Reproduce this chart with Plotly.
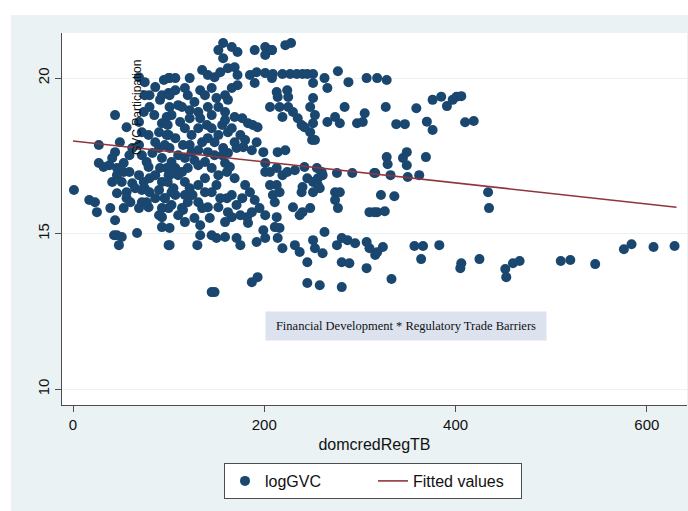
import plotly.graph_objects as go

# ---- data ----
dom_x = [
    # left cluster
    69, 86, 95, 100, 44, 56, 74, 80, 85, 93, 98, 101, 27, 44, 49, 59, 41, 38, 27, 32, 46, 53, 62, 69, 72, 77, 83, 90, 96, 79, 91, 93,
    46, 41, 53, 59, 69, 74, 80, 86, 93, 100, 90, 96, 103, 1, 17, 23, 25, 39, 46, 56, 62, 72, 75, 44, 56, 60, 69, 79, 77, 93, 93, 100,
    93, 67, 46, 43, 51, 48, 100,
    75, 80, 91, 72, 79, 90, 100, 86, 69, 93, 100, 75,
    51, 65, 80, 86, 72, 53, 90,
    # middle cluster
    157, 166, 152, 157, 172, 190, 201, 201, 208,
    101, 107, 122, 135, 141, 148, 154, 162, 169, 172, 185, 192, 201, 208, 190, 172, 166,
    110, 114, 120, 127, 122, 131, 141, 150, 152, 159, 169, 177, 183, 188, 193, 166, 103, 99, 112, 117, 124, 131, 140, 145, 152, 135,
    141, 148, 157, 115, 107, 98,
    156, 162, 171, 178, 187, 192, 199, 159, 164, 161, 169, 201, 201, 110, 117, 124, 127, 131, 103, 98, 107, 114, 120,
    99, 105, 110, 117, 122, 125, 120, 114, 103, 96, 131, 135, 141, 145, 150, 154, 161, 166, 177, 171, 162, 152, 166, 182, 187, 195,
    201, 183, 127, 101, 115,
    133, 130, 145, 150, 159, 171, 175, 192, 199, 201, 101, 193, 187, 145, 148,
    101, 107, 117, 133, 138, 145, 159, 162, 156, 162, 175, 180, 169, 133, 122, 145, 159, 101, 122, 131, 141, 148, 138, 145, 152, 138,
    131, 138, 107, 117, 101, 180, 185, 190, 175, 159, 143, 133, 117, 110,
    # right-middle cluster
    222, 228, 208, 209, 219, 227, 234, 240, 245, 251, 263, 277, 288, 307, 318, 251, 266, 213, 224, 225, 214, 251, 248,
    206, 216, 225, 230, 219, 235, 239, 242, 248, 251, 253, 250, 253, 266, 274, 279, 284, 297, 305, 303,
    214, 222, 206, 213, 219, 224, 232, 242, 245, 251, 256, 261, 258, 251, 240, 239, 276, 292, 316,
    206, 213, 216, 209, 211, 274, 279, 274, 277, 230, 240, 248, 237, 310, 318, 213,
    211, 216, 214, 219, 232, 237, 245, 251, 253, 263, 261, 276, 281, 287, 295, 307, 310, 316, 281, 289, 307, 245, 258, 281,
    255, 260, 256,
    # right tail
    328, 327, 359, 376, 385, 391, 397, 401, 406, 338, 347, 370, 376, 410, 419, 328, 329, 315, 332, 345, 349, 349, 350, 362, 369,
    434, 435, 322, 336, 326, 315,
    318, 324, 333, 357, 366, 364, 383, 406, 405, 425, 452, 453, 460, 467, 510, 520, 546, 576, 584, 607, 629,
]
log_gvc = [
    20.03, 19.71, 19.94, 20.00, 18.81, 18.42, 18.91, 19.07, 18.81, 18.55, 18.75, 19.07, 17.85, 17.62, 17.94, 17.52, 17.43, 17.20, 17.27, 17.14, 17.11, 17.27, 17.75, 17.85, 17.52, 17.30, 17.59, 17.75, 17.85, 17.14, 17.11, 17.43,
    16.88, 16.66, 16.98, 16.98, 16.88, 16.66, 16.78, 16.88, 16.66, 16.88, 16.40, 16.14, 16.33, 16.40, 16.08, 16.01, 15.69, 15.82, 16.30, 16.33, 16.62, 16.40, 16.46, 15.43, 16.14, 16.01, 15.82, 15.85, 16.01, 15.82, 15.53, 15.82,
    15.21, 15.02, 14.95, 14.95, 14.89, 14.63, 14.63,
    19.87, 19.45, 19.30, 18.26, 18.17, 18.26, 18.17, 17.94, 18.59, 19.45, 19.52, 19.45,
    16.66, 16.46, 16.33, 16.14, 16.01, 15.82, 15.59,
    21.13, 21.00, 20.90, 20.64, 20.84, 20.90, 21.00, 20.74, 20.90,
    20.00, 20.00, 20.00, 20.26, 20.10, 20.03, 20.19, 20.32, 20.35, 20.10, 20.10, 20.19, 20.16, 20.00, 19.84, 19.77, 19.68,
    19.13, 19.07, 19.45, 19.23, 18.97, 18.91, 19.07, 19.36, 19.07, 18.91, 18.75, 18.71, 18.55, 18.49, 18.42, 18.39, 18.81, 18.49, 18.59, 18.39, 18.17, 18.39, 18.49, 18.39, 18.17, 17.94,
    18.07, 17.94, 17.75, 17.85, 18.07, 18.17,
    17.52, 17.59, 17.75, 17.78, 17.68, 17.94, 17.62, 17.27, 17.14, 16.98, 16.78, 17.27, 16.98, 17.52, 17.43, 17.62, 17.36, 17.20, 17.30, 17.11, 17.11, 16.98, 17.11,
    16.66, 16.46, 16.88, 16.66, 16.46, 16.24, 16.01, 15.82, 15.92, 16.14, 16.01, 15.82, 15.85, 16.33, 16.56, 16.14, 16.14, 16.24, 16.14, 15.92, 15.69, 15.85, 15.53, 15.53, 15.69, 15.82,
    15.59, 15.34, 15.50, 15.18, 15.76,
    14.95, 14.63, 14.95, 14.86, 14.89, 14.86, 14.63, 14.73, 15.11, 14.86, 14.63, 13.60, 13.44, 13.12, 13.12,
    19.45, 19.61, 19.68, 19.61, 19.45, 19.68, 19.45, 19.30, 18.49, 18.26, 18.17, 18.01, 17.94, 18.71, 18.71, 18.81, 18.65, 17.75, 17.85, 17.68, 17.62, 17.52, 17.30, 17.11, 16.88, 16.78,
    16.56, 16.33, 16.24, 16.24, 16.88, 16.56, 16.33, 16.08, 15.59, 15.37, 15.50, 15.27, 15.37, 15.59,
    21.06, 21.13, 20.90, 20.13, 20.13, 20.13, 20.13, 20.13, 20.13, 20.13, 20.00, 20.22, 19.87, 20.00, 20.00, 19.84, 19.68, 19.55, 19.61, 19.39, 19.39, 19.36, 19.07,
    19.07, 19.07, 19.07, 18.91, 18.75, 18.71, 18.49, 18.42, 18.26, 18.55, 18.81, 18.01, 18.01, 18.59, 18.75, 18.55, 19.07, 18.55, 18.87, 18.59,
    17.62, 17.68, 16.98, 17.11, 16.88, 16.98, 17.04, 17.14, 16.78, 16.66, 16.78, 16.88, 16.46, 16.33, 16.50, 16.33, 16.95, 16.95, 16.95,
    16.56, 16.56, 16.33, 16.24, 16.01, 16.33, 16.33, 16.08, 15.82, 15.85, 15.69, 15.82, 15.59, 15.69, 15.69, 15.53,
    15.21, 15.18, 14.86, 14.53, 14.63, 14.41, 14.08, 14.79, 14.53, 15.05, 14.37, 14.63, 14.86, 14.79, 14.69, 14.73, 14.53, 14.31, 14.08, 14.05, 13.89, 13.41, 13.34, 13.28,
    17.11, 16.98, 16.56,
    19.94, 19.07, 19.03, 19.30, 19.40, 19.10, 19.30, 19.40, 19.42, 18.52, 18.52, 18.60, 18.33, 18.58, 18.62, 17.46, 17.23, 16.95, 16.88, 17.43, 17.62, 17.20, 16.82, 16.88, 17.46,
    16.33, 15.82, 16.24, 16.20, 15.72, 15.69,
    14.40, 14.57, 13.54, 14.60, 14.60, 14.18, 14.63, 14.05, 13.89, 14.18, 13.86, 13.60, 14.05, 14.12, 14.12, 14.15, 14.02, 14.50, 14.66, 14.57, 14.60,
]
fit_x = [0, 631]
fit_y = [17.98, 15.85]

x_ticks = [0, 200, 400, 600]
y_ticks = [10, 15, 20]

FONT = "Arial, Liberation Sans, sans-serif"
NAVY = "#1a476f"
RED = "#90353b"
AXIS = "#4d4d4d"
PANEL = "#eaf2f3"

fig = go.Figure()
fig.add_trace(go.Scatter(
    x=dom_x, y=log_gvc, mode="markers", name="logGVC",
    marker=dict(color=NAVY, size=10, line=dict(width=0)),
))
fig.add_trace(go.Scatter(
    x=fit_x, y=fit_y, mode="lines", name="Fitted values",
    line=dict(color=RED, width=1.6),
))

L, R, T, B = 62, 1, 33, 106
W, H = 688, 511
pw, ph = W - L - R, H - T - B

def px(xp):
    return (xp - L) / pw

def py(yp):
    return (H - B - yp) / ph

fig.update_layout(
    width=W, height=H,
    margin=dict(l=L, r=R, t=T, b=B, pad=0),
    paper_bgcolor=PANEL, plot_bgcolor="white",
    font=dict(family=FONT, size=15, color="#111"),
    showlegend=True,
    legend=dict(
        orientation="h", x=px(224), y=py(463), xanchor="left", yanchor="top",
        bgcolor="white", bordercolor=AXIS, borderwidth=1,
        font=dict(family=FONT, size=16, color="#111"),
        entrywidth=103, tracegroupgap=0,
    ),
    xaxis=dict(
        range=[-11.5, 642], tickvals=x_ticks, ticktext=[str(v) for v in x_ticks],
        showgrid=False, zeroline=False, showline=True, linecolor=AXIS, linewidth=1.3,
        ticks="outside", ticklen=6, tickcolor=AXIS, tickwidth=1,
        tickfont=dict(family=FONT, size=15, color="#111"),
        title=dict(text="domcredRegTB", font=dict(family=FONT, size=16, color="#111"), standoff=6),
    ),
    yaxis=dict(
        range=[9.49, 21.45], tickvals=y_ticks, ticktext=[str(v) for v in y_ticks],
        showgrid=True, gridcolor=PANEL, gridwidth=1, zeroline=False,
        showline=True, linecolor=AXIS, linewidth=1.3,
        ticks="outside", ticklen=6, tickcolor=AXIS, tickwidth=1, tickangle=-90,
        tickfont=dict(family=FONT, size=15, color="#111"),
    ),
    shapes=[
        dict(type="rect", xref="paper", yref="paper", x0=px(-5), x1=px(11), y0=py(520), y1=py(-5),
             fillcolor="white", line=dict(width=0), layer="below"),
        dict(type="rect", xref="paper", yref="paper", x0=px(-5), x1=px(700), y0=py(15), y1=py(-5),
             fillcolor="white", line=dict(width=0), layer="below"),
    ],
    annotations=[
        dict(text="GVC Participation", xref="paper", yref="paper", x=px(137), y=py(108),
             xanchor="center", yanchor="middle", textangle=-90, showarrow=False,
             font=dict(family=FONT, size=12, color="#111")),
        dict(text="Financial Development * Regulatory Trade Barriers", xref="paper", yref="paper",
             x=px(406), y=py(326), xanchor="center", yanchor="middle", showarrow=False,
             width=278, height=26, bgcolor="#dce3ef",
             font=dict(family="Times New Roman, Liberation Serif, serif", size=12.5, color="#111")),
    ],
)

fig.write_html("out.html", config={"displayModeBar": False},
               post_script="document.body.style.margin='0';document.body.style.padding='0';")
